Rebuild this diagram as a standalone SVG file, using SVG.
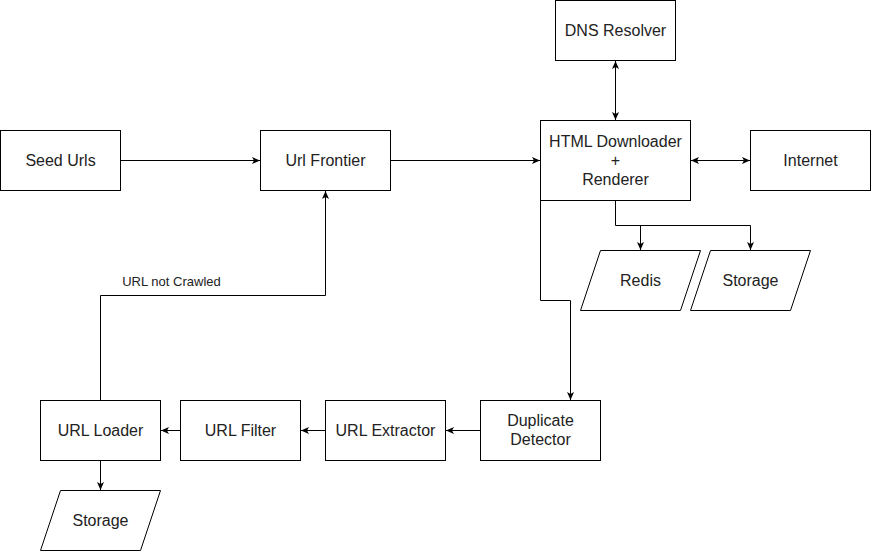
<svg xmlns="http://www.w3.org/2000/svg" width="872" height="552" viewBox="0 0 872 552">
<defs>
<marker id="arr" viewBox="0 0 8 8" refX="8" refY="4" markerWidth="8" markerHeight="8" markerUnits="userSpaceOnUse" orient="auto-start-reverse">
<path d="M0,0.5 L8,4 L0,7.5 L2,4 Z" fill="#000"/>
</marker>
<style>
.box{fill:#fff;stroke:#000;stroke-width:1}
.t{font-family:"Liberation Sans",Arial,Helvetica,sans-serif;font-size:16px;fill:#222;text-anchor:middle}
.lbl{font-family:"Liberation Sans",Arial,Helvetica,sans-serif;font-size:13px;fill:#222;text-anchor:middle}
.c{fill:none;stroke:#000;stroke-width:1}
.a{marker-end:url(#arr)}
.b{marker-start:url(#arr);marker-end:url(#arr)}
</style>
</defs>
<rect width="872" height="552" fill="#fff"/>
<g id="connectors">
<path class="c a" d="M120.5,160.5 H260"/>
<path class="c a" d="M390.5,160.5 H540"/>
<path class="c b" d="M615.5,61 V120"/>
<path class="c b" d="M691,160.5 H750"/>
<path class="c" d="M615.5,200.5 V225.5 H750.5"/>
<path class="c a" d="M640.5,225.5 V250"/>
<path class="c a" d="M750.5,225.5 V250"/>
<path class="c a" d="M540.5,200.5 V300.5 H570.5 V400"/>
<path class="c a" d="M480.5,430.5 H446"/>
<path class="c a" d="M325.5,430.5 H301"/>
<path class="c a" d="M180.5,430.5 H161"/>
<path class="c a" d="M100.5,460.5 V490"/>
<path class="c a" d="M100.5,400.5 V295.5 H325.5 V191"/>
<text class="lbl" x="171.5" y="286">URL not Crawled</text>
</g>
<g id="seed-urls"><rect class="box" x="0.5" y="130.5" width="120" height="60"/><text class="t" x="60.5" y="166">Seed Urls</text></g>
<g id="url-frontier"><rect class="box" x="260.5" y="130.5" width="130" height="60"/><text class="t" x="325.5" y="166">Url Frontier</text></g>
<g id="dns-resolver"><rect class="box" x="555.5" y="0.5" width="120" height="60"/><text class="t" x="615.5" y="36">DNS Resolver</text></g>
<g id="html-downloader"><rect class="box" x="540.5" y="120.5" width="150" height="80"/><text class="t" x="615.5" y="147">HTML Downloader</text><text class="t" x="615.5" y="166">+</text><text class="t" x="615.5" y="185">Renderer</text></g>
<g id="internet"><rect class="box" x="750.5" y="130.5" width="120" height="60"/><text class="t" x="810.5" y="166">Internet</text></g>
<g id="redis"><path class="box" d="M600.5,250.5 H700.5 L680.5,310.5 H580.5 Z"/><text class="t" x="640.5" y="286">Redis</text></g>
<g id="storage-top"><path class="box" d="M710.5,250.5 H810.5 L790.5,310.5 H690.5 Z"/><text class="t" x="750.5" y="286">Storage</text></g>
<g id="duplicate-detector"><rect class="box" x="480.5" y="400.5" width="120" height="60"/><text class="t" x="540.5" y="426">Duplicate</text><text class="t" x="540.5" y="445">Detector</text></g>
<g id="url-extractor"><rect class="box" x="325.5" y="400.5" width="120" height="60"/><text class="t" x="385.5" y="436">URL Extractor</text></g>
<g id="url-filter"><rect class="box" x="180.5" y="400.5" width="120" height="60"/><text class="t" x="240.5" y="436">URL Filter</text></g>
<g id="url-loader"><rect class="box" x="40.5" y="400.5" width="120" height="60"/><text class="t" x="100.5" y="436">URL Loader</text></g>
<g id="storage-bottom"><path class="box" d="M60.5,490.5 H160.5 L140.5,550.5 H40.5 Z"/><text class="t" x="100.5" y="526">Storage</text></g>
</svg>
